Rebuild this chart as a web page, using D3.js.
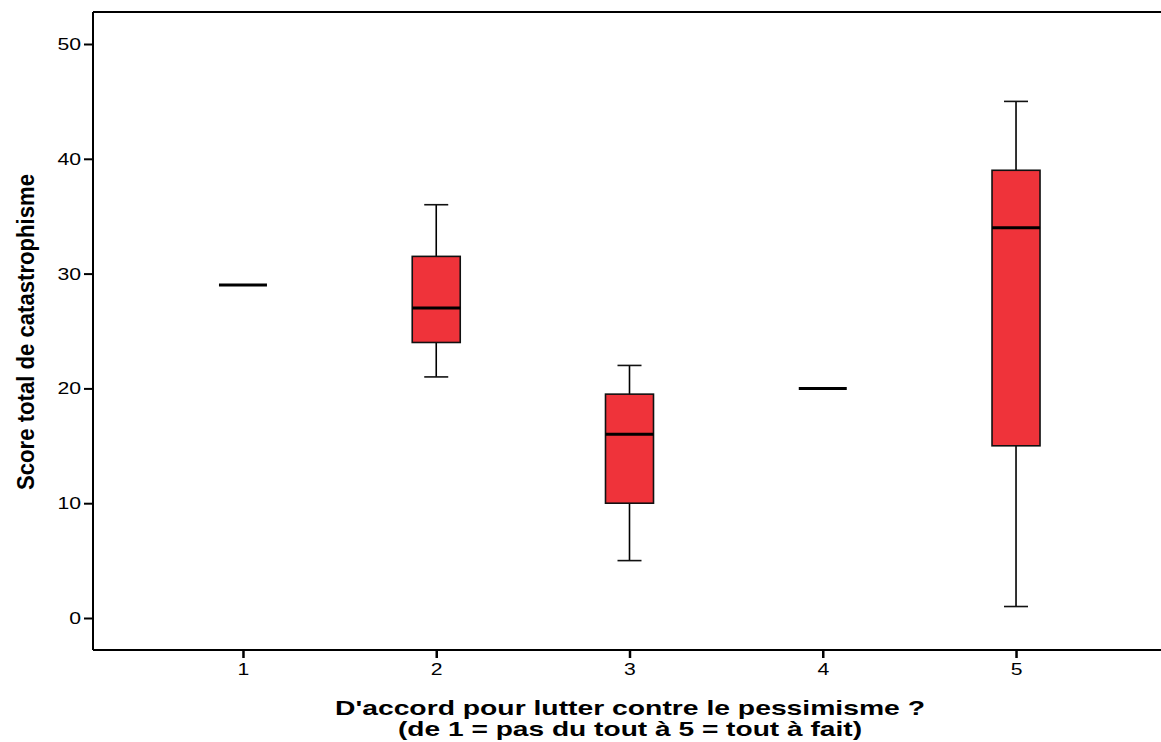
<!DOCTYPE html>
<html>
<head>
<meta charset="utf-8">
<script src="https://cdn.jsdelivr.net/npm/d3@7"></script>
<style>
  html, body { margin: 0; padding: 0; background: #fff; }
  svg { display: block; }
</style>
</head>
<body>
<svg id="chart" width="1161" height="742"></svg>
<script>
// Response categories (1 = pas du tout ... 5 = tout à fait)
const categories = [1, 2, 3, 4, 5];
// Five-number summaries of the catastrophism score per category
const whiskerLow = [29, 21, 5, 20, 1];
const q1 = [29, 24, 10, 20, 15];
const median = [29, 27, 16, 20, 34];
const q3 = [29, 31.5, 19.5, 20, 39];
const whiskerHigh = [29, 36, 22, 20, 45];
const yTicks = [0, 10, 20, 30, 40, 50];

(function () {
  const svg = d3.select("#chart");
  const plotLeft = 93, plotTop = 12, plotRight = 1166, plotBottom = 650;
  const fontFamily = "'Liberation Sans', Arial, sans-serif";

  const x = d3.scalePoint().domain(categories).range([plotLeft, plotRight]).padding(0.776);
  const y = d3.scaleLinear().domain([0, 50]).range([618, 44]);

  const boxW = 48, capW = 24;

  // Tick labels are set in a slightly wide face
  function styleTickText(sel) {
    sel.style("font-family", fontFamily).style("font-size", "17px").attr("fill", "#000")
      .attr("textLength", function () { return 11.8 * this.textContent.length; })
      .attr("lengthAdjust", "spacingAndGlyphs");
  }

  // Frame: top line running to the right edge
  svg.append("line").attr("x1", plotLeft).attr("x2", 1161).attr("y1", plotTop).attr("y2", plotTop)
    .attr("stroke", "#000").attr("stroke-width", 2);

  // Y axis
  const yAxis = svg.append("g").attr("transform", `translate(${plotLeft},0)`)
    .call(d3.axisLeft(y).tickValues(yTicks).tickSize(9).tickPadding(3).tickSizeOuter(0));
  yAxis.attr("font-size", null).attr("font-family", null);
  yAxis.select(".domain").remove();
  yAxis.append("line").attr("x1", 0).attr("x2", 0).attr("y1", plotTop).attr("y2", plotBottom)
    .attr("stroke", "#000").attr("stroke-width", 2);
  yAxis.selectAll(".tick line").attr("stroke", "#000").attr("stroke-width", 2);
  yAxis.selectAll(".tick text").call(styleTickText);

  // X axis
  const xAxis = svg.append("g").attr("transform", `translate(0,${plotBottom})`)
    .call(d3.axisBottom(x).tickSize(8).tickPadding(5).tickSizeOuter(0));
  xAxis.attr("font-size", null).attr("font-family", null);
  xAxis.select(".domain").remove();
  xAxis.append("line").attr("x1", plotLeft).attr("x2", 1161).attr("y1", 0).attr("y2", 0)
    .attr("stroke", "#000").attr("stroke-width", 2);
  xAxis.selectAll(".tick line").attr("stroke", "#000").attr("stroke-width", 2.5);
  xAxis.selectAll(".tick text").call(styleTickText);

  // Boxes
  const rows = categories.map((c, i) => ({
    c, lo: whiskerLow[i], q1: q1[i], med: median[i], q3: q3[i], hi: whiskerHigh[i]
  }));

  const g = svg.append("g");
  rows.forEach(d => {
    const cx = x(d.c);
    const grp = g.append("g");
    if (d.hi > d.lo) {
      // whiskers
      grp.append("line").attr("x1", cx).attr("x2", cx).attr("y1", y(d.hi)).attr("y2", y(d.q3))
        .attr("stroke", "#000").attr("stroke-width", 1.6);
      grp.append("line").attr("x1", cx).attr("x2", cx).attr("y1", y(d.q1)).attr("y2", y(d.lo))
        .attr("stroke", "#000").attr("stroke-width", 1.6);
      grp.append("line").attr("x1", cx - capW / 2).attr("x2", cx + capW / 2).attr("y1", y(d.hi)).attr("y2", y(d.hi))
        .attr("stroke", "#111").attr("stroke-width", 1.6);
      grp.append("line").attr("x1", cx - capW / 2).attr("x2", cx + capW / 2).attr("y1", y(d.lo)).attr("y2", y(d.lo))
        .attr("stroke", "#111").attr("stroke-width", 1.6);
      // box
      grp.append("rect").attr("x", cx - boxW / 2).attr("width", boxW)
        .attr("y", y(d.q3)).attr("height", y(d.q1) - y(d.q3))
        .attr("fill", "#EF333A").attr("stroke", "#111").attr("stroke-width", 1.6);
    }
    // median
    grp.append("line").attr("x1", cx - boxW / 2).attr("x2", cx + boxW / 2).attr("y1", y(d.med)).attr("y2", y(d.med))
      .attr("stroke", "#000").attr("stroke-width", 3);
  });

  // Axis titles
  svg.append("text")
    .attr("transform", "translate(34,332) rotate(-90)")
    .attr("text-anchor", "middle")
    .attr("font-family", "'Liberation Sans Narrow', 'Liberation Sans', Arial, sans-serif")
    .attr("font-weight", "bold").attr("font-size", 24)
    .attr("textLength", 316).attr("lengthAdjust", "spacingAndGlyphs")
    .text("Score total de catastrophisme");

  svg.append("text")
    .attr("x", 630).attr("y", 715).attr("text-anchor", "middle")
    .attr("font-family", fontFamily).attr("font-weight", "bold").attr("font-size", 21)
    .attr("textLength", 590).attr("lengthAdjust", "spacingAndGlyphs")
    .text("D'accord pour lutter contre le pessimisme ?");
  svg.append("text")
    .attr("x", 630).attr("y", 736).attr("text-anchor", "middle")
    .attr("font-family", fontFamily).attr("font-weight", "bold").attr("font-size", 21)
    .attr("textLength", 464).attr("lengthAdjust", "spacingAndGlyphs")
    .text("(de 1 = pas du tout à 5 = tout à fait)");
})();
</script>
</body>
</html>
